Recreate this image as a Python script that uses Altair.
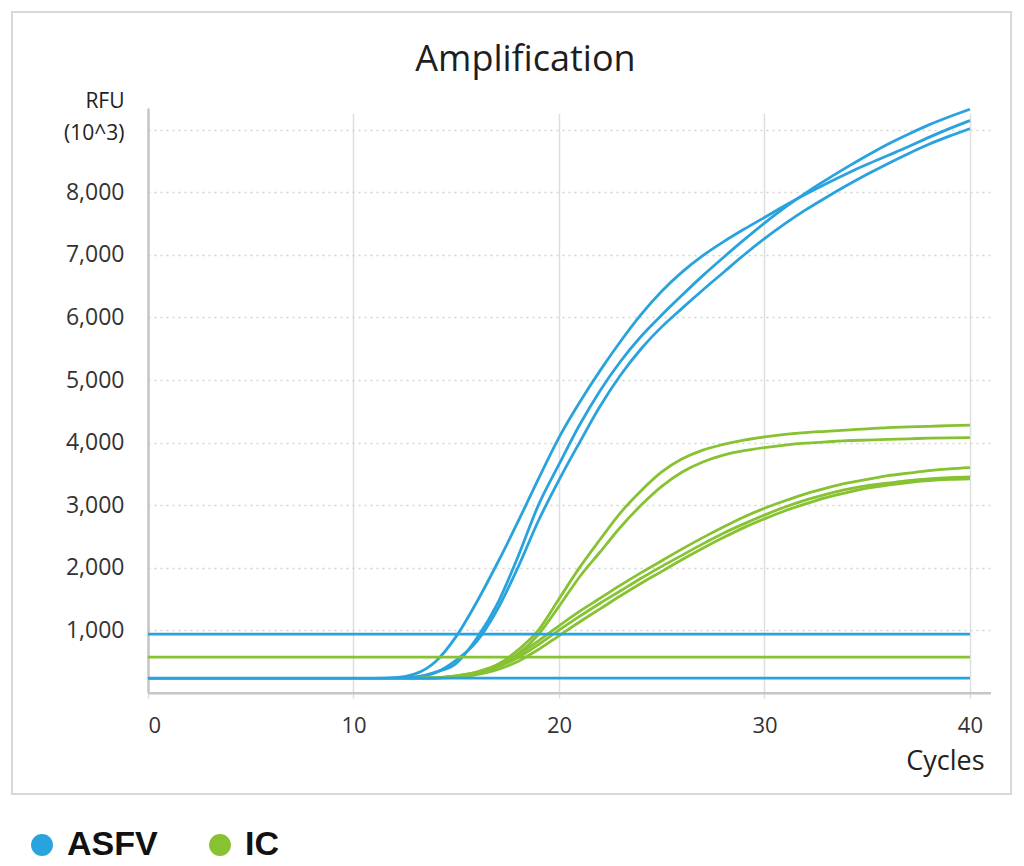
import altair as alt
import pandas as pd

# ---------------- data ----------------
cycles = list(range(0, 41))

asfv_1 = [230, 230, 230, 230, 230, 230, 230, 230, 230, 230, 230, 230, 240, 300, 500, 900,
          1450, 2070, 2730, 3420, 4080, 4640, 5150, 5620, 6050, 6420, 6730, 6990, 7210, 7410,
          7600, 7790, 7970, 8140, 8300, 8450, 8590, 8730, 8880, 9020, 9150]
asfv_2 = [230, 230, 230, 230, 230, 230, 230, 230, 230, 230, 230, 230, 230, 250, 330, 470,
          870, 1420, 2170, 3000, 3650, 4280, 4830, 5300, 5700, 6040, 6360, 6670, 6960, 7240,
          7510, 7760, 7990, 8200, 8400, 8590, 8770, 8930, 9080, 9210, 9330]
asfv_3 = [230, 230, 230, 230, 230, 230, 230, 230, 230, 230, 230, 230, 230, 250, 320, 520,
          820, 1330, 2000, 2750, 3400, 4000, 4580, 5080, 5500, 5850, 6150, 6440, 6720, 7000,
          7260, 7500, 7720, 7920, 8110, 8290, 8460, 8620, 8770, 8900, 9020]

ic_1 = [230, 230, 230, 230, 230, 230, 230, 230, 230, 230, 230, 230, 230, 230, 240, 270,
        330, 450, 680, 1000, 1500, 2000, 2450, 2880, 3230, 3530, 3740, 3880, 3970, 4040,
        4090, 4130, 4160, 4180, 4200, 4220, 4240, 4250, 4260, 4270, 4280]
ic_2 = [230, 230, 230, 230, 230, 230, 230, 230, 230, 230, 230, 230, 230, 230, 235, 260,
        310, 420, 620, 930, 1380, 1850, 2250, 2650, 3000, 3300, 3530, 3690, 3800, 3870,
        3920, 3960, 3990, 4010, 4030, 4040, 4050, 4060, 4070, 4075, 4080]
ic_3 = [230, 230, 230, 230, 230, 230, 230, 230, 230, 230, 230, 230, 230, 230, 240, 270,
        330, 440, 600, 830, 1070, 1300, 1510, 1720, 1920, 2110, 2300, 2480, 2650, 2810,
        2950, 3070, 3180, 3270, 3350, 3410, 3470, 3510, 3550, 3580, 3600]
ic_4 = [230, 230, 230, 230, 230, 230, 230, 230, 230, 230, 230, 230, 230, 230, 235, 260,
        310, 410, 560, 770, 1000, 1220, 1430, 1630, 1830, 2020, 2200, 2380, 2550, 2700,
        2840, 2970, 3080, 3170, 3250, 3310, 3350, 3390, 3420, 3440, 3450]
ic_5 = [230, 230, 230, 230, 230, 230, 230, 230, 230, 230, 230, 230, 230, 230, 232, 250,
        290, 370, 500, 690, 910, 1130, 1340, 1550, 1750, 1940, 2130, 2310, 2480, 2640,
        2780, 2910, 3020, 3120, 3200, 3270, 3320, 3360, 3390, 3410, 3420]

curve_names = ["ASFV-1", "ASFV-2", "ASFV-3", "IC-1", "IC-2", "IC-3", "IC-4", "IC-5"]
curve_targets = ["ASFV", "ASFV", "ASFV", "IC", "IC", "IC", "IC", "IC"]
curve_values = [asfv_1, asfv_2, asfv_3, ic_1, ic_2, ic_3, ic_4, ic_5]

# threshold / baseline lines
thr_targets = ["ASFV", "IC", "ASFV"]
thr_values = [936, 570, 234]
thr_start = [0, 0, 0]
thr_end = [40, 40, 40]

# legend keys (one per target, anchored at the start of its baseline)
key_targets = ["ASFV", "IC"]
key_cycle = [0, 0]
key_rfu = [234, 570]

x_ticks = [0, 10, 20, 30, 40]
y_ticks = [1000, 2000, 3000, 4000, 5000, 6000, 7000, 8000, 9000]
targets = ["ASFV", "IC"]
colors = ["#29a3dd", "#86c232"]

rows = []
for name, tgt, vals in zip(curve_names, curve_targets, curve_values):
    for c, v in zip(cycles, vals):
        rows.append({"curve": name, "target": tgt, "cycle": c, "rfu": v})
curves_df = pd.DataFrame(rows)
thr_df = pd.DataFrame({"target": thr_targets, "rfu": thr_values,
                       "c0": thr_start, "c1": thr_end})
key_df = pd.DataFrame({"target": key_targets, "cycle": key_cycle, "rfu": key_rfu})

# ---------------- layout ----------------
VIEW_W, VIEW_H = 999, 782
X0, X1 = 136, 978.5
Y0, Y1 = 680.7, 96

FONT = "Open Sans"

x_scale = alt.Scale(domain=[0, 41], range=[X0, X1], nice=False, zero=False)
y_scale = alt.Scale(domain=[0, 9350], range=[Y0, Y1], nice=False, zero=False)
stroke_scale = alt.Scale(range=colors)          # domain from data: ASFV, IC
fill_scale = alt.Scale(domain=targets, range=colors)

x_axis = alt.Axis(
    values=x_ticks, title="Cycles", offset=-(VIEW_H - Y0),
    grid=True, gridColor="#dedede", gridWidth=1.5,
    domainColor="#c6c6c6", domainWidth=2.5,
    ticks=False, tickSize=0, labelPadding=23,
    labelFont=FONT, labelFontSize=22, labelColor="#333333",
    titleFont=FONT, titleFontSize=27, titleFontWeight="normal", titleColor="#222222",
    titleX=972, titleY=77, titleAlign="right", titleBaseline="alphabetic",
)
y_axis = alt.Axis(
    values=y_ticks, format=",d",
    labelExpr="datum.value == 9000 ? '' : datum.label",
    title=["RFU", "(10^3)"], titleAngle=0, offset=-X0,
    grid=True, gridColor="#d4d4d4", gridDash=[2, 4], gridWidth=1.5,
    domainColor="#c6c6c6", domainWidth=2.5,
    ticks=False, tickSize=0, labelPadding=24,
    labelFont=FONT, labelFontSize=23, labelColor="#333333",
    titleFont=FONT, titleFontSize=21, titleFontWeight=500, titleColor="#222222",
    titleX=-24, titleY=95, titleAlign="right", titleBaseline="alphabetic",
    titleLineHeight=32,
)

lines = alt.Chart(curves_df).mark_line(interpolate="monotone").encode(
    x=alt.X("cycle:Q", scale=x_scale, axis=x_axis),
    y=alt.Y("rfu:Q", scale=y_scale, axis=y_axis),
    stroke=alt.Stroke("target:N", scale=stroke_scale, legend=None),
    detail="curve:N",
    strokeWidth=alt.value(2.8),
)

rules = alt.Chart(thr_df).mark_rule().encode(
    x="c0:Q", x2="c1:Q", y="rfu:Q",
    stroke=alt.Stroke("target:N", scale=stroke_scale, legend=None),
    strokeWidth=alt.value(2.8),
)

keys = alt.Chart(key_df).mark_circle().encode(
    x="cycle:Q", y="rfu:Q",
    fill=alt.Fill(
        "target:N", scale=fill_scale,
        legend=alt.Legend(
            title=None, orient="none", direction="horizontal",
            legendX=13, legendY=816,
            symbolType="circle", symbolSize=480, symbolStrokeWidth=0,
            symbolOpacity=1,
            labelFont="Liberation Sans", labelFontWeight="bold", labelFontSize=34,
            labelColor="#111111", labelOffset=8, columnPadding=45, padding=0,
        ),
    ),
    size=alt.value(1),
)

chart = alt.layer(lines, rules, keys).properties(
    width=VIEW_W, height=VIEW_H,
    title=alt.TitleParams(
        "Amplification", font=FONT, fontSize=36, fontWeight=500, color="#1e1e1e",
        anchor="middle", offset=-67, dx=14,
    ),
    padding={"left": 4, "top": 4, "right": 4, "bottom": 0},
).configure_view(
    stroke="#d8d8d8", strokeWidth=2,
)

chart.save("out.html", embed_options={"renderer": "svg", "actions": False})
